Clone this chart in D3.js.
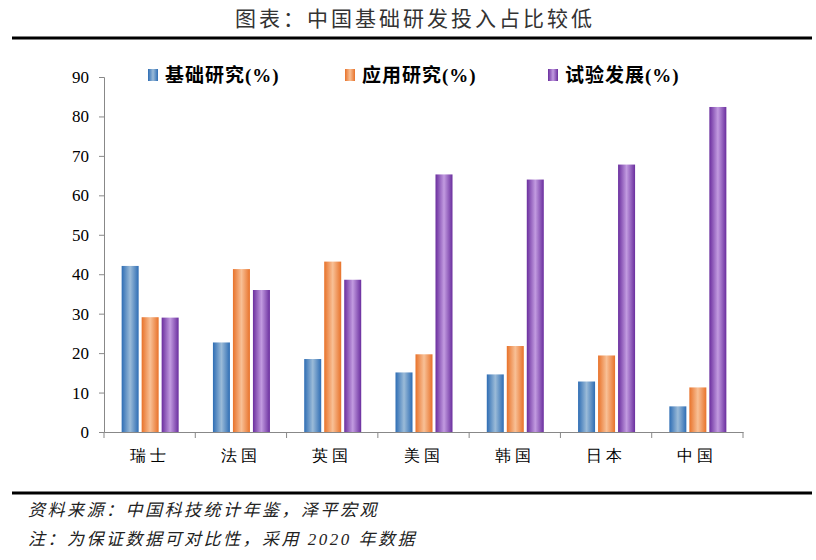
<!DOCTYPE html>
<html><head><meta charset="utf-8">
<script src="https://cdn.jsdelivr.net/npm/d3@7"></script>
<style>body{margin:0;background:#fff}svg{font-family:"Liberation Serif","Noto Sans CJK SC",serif}</style>
</head><body><div id="c"></div>
<script>
var countries = ['瑞士', '法国', '英国', '美国', '韩国', '日本', '中国'];
var seriesNames = ['基础研究(%)', '应用研究(%)', '试验发展(%)'];
var basic = [42.1, 22.7, 18.5, 15.1, 14.6, 12.8, 6.5];
var applied = [29.1, 41.3, 43.2, 19.7, 21.8, 19.4, 11.3];
var experimental = [29.0, 36.0, 38.6, 65.3, 64.0, 67.8, 82.4];
var yTicks = [0, 10, 20, 30, 40, 50, 60, 70, 80, 90];

var series = [basic, applied, experimental];
var colors = [['#2e6db4', '#9bbbd8'], ['#e8722a', '#f8c096'], ['#6a2e9e', '#c29be0']];

function translate(x, y) { return 'translate(' + x + ',' + y + ')'; }

var svg = d3.select('#c').append('svg').attr('width', 816).attr('height', 560);

var defs = svg.append('defs');
colors.forEach(function(c, i) {
  var g = defs.append('linearGradient').attr('id', 'g' + i).attr('x1', 0).attr('x2', 1);
  g.append('stop').attr('offset', '0%').attr('stop-color', c[0]);
  g.append('stop').attr('offset', '50%').attr('stop-color', c[1]);
  g.append('stop').attr('offset', '100%').attr('stop-color', c[0]);
});

svg.append('text').attr('x', 415).attr('y', 26).attr('text-anchor', 'middle')
  .attr('font-size', 21).attr('letter-spacing', 3).attr('fill', '#333').text('图表：中国基础研发投入占比较低');
svg.append('line').attr('x1', 12).attr('x2', 812).attr('y1', 38).attr('y2', 38).attr('stroke', '#000').attr('stroke-width', 3);
svg.append('line').attr('x1', 12).attr('x2', 812).attr('y1', 493).attr('y2', 493).attr('stroke', '#000').attr('stroke-width', 3);

var x = d3.scaleBand().domain(countries).range([104, 743]);
var y = d3.scaleLinear().domain([0, 90]).range([432, 77]);

svg.append('g').attr('transform', translate(104, 0))
  .call(d3.axisLeft(y).tickValues(yTicks).tickSize(5).tickPadding(10))
  .call(function(g) {
    g.select('.domain').attr('stroke', '#888');
    g.selectAll('line').attr('stroke', '#888');
    g.selectAll('text').attr('font-size', 17).attr('fill', '#000').attr('font-family', 'Liberation Serif');
  });

svg.append('g').attr('transform', translate(0, 432))
  .call(d3.axisBottom(x).tickSize(0).tickPadding(18))
  .call(function(g) {
    g.select('.domain').attr('stroke', '#888');
    g.selectAll('text').attr('font-size', 16).attr('letter-spacing', 4).attr('fill', '#000');
  });
svg.append('g').selectAll('line').data(d3.range(countries.length + 1)).join('line')
  .attr('x1', function(i) { return 104 + i * x.step(); })
  .attr('x2', function(i) { return 104 + i * x.step(); })
  .attr('y1', 432).attr('y2', 438).attr('stroke', '#888');

series.forEach(function(vals, s) {
  svg.append('g').selectAll('rect').data(vals).join('rect')
    .attr('x', function(d, i) { return x(countries[i]) + x.bandwidth() / 2 - 28 + s * 20; })
    .attr('width', 17)
    .attr('y', function(d) { return y(d); })
    .attr('height', function(d) { return 432 - y(d); })
    .attr('fill', 'url(#g' + s + ')');
});

var legX = [148, 345, 548];
seriesNames.forEach(function(n, i) {
  svg.append('rect').attr('x', legX[i]).attr('y', 69).attr('width', 10).attr('height', 12).attr('fill', 'url(#g' + i + ')');
  svg.append('text').attr('x', legX[i] + 17).attr('y', 82).attr('font-size', 19).attr('letter-spacing', 1)
    .attr('font-weight', 'bold').text(n);
});

svg.append('text').attr('x', 28).attr('y', 516).attr('font-size', 17).attr('letter-spacing', 2.5).attr('font-style', 'italic').attr('fill', '#222')
  .text('资料来源：中国科技统计年鉴，泽平宏观');
svg.append('text').attr('x', 28).attr('y', 545).attr('font-size', 17).attr('letter-spacing', 2.5).attr('font-style', 'italic').attr('fill', '#222')
  .text('注：为保证数据可对比性，采用 2020 年数据');
</script></body></html>
